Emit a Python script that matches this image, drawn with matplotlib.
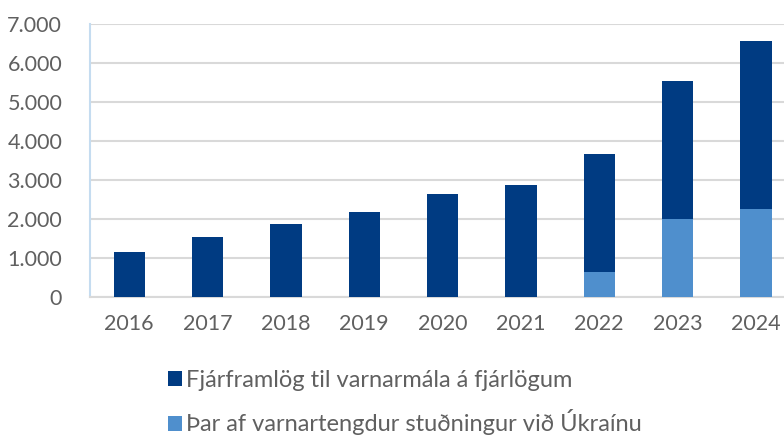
import matplotlib.pyplot as plt
import numpy as np
from matplotlib.ticker import FuncFormatter

years = ['2016', '2017', '2018', '2019', '2020', '2021', '2022', '2023', '2024']
fjarlog = [1150, 1540, 1880, 2180, 2640, 2870, 3660, 5540, 6560]
ukraina = [0, 0, 0, 0, 0, 0, 640, 2000, 2260]

dark = '#003B82'
light = '#4F8FCD'
txt = '#606060'

plt.rcParams['font.family'] = ['Lato', 'DejaVu Sans']

fig = plt.figure(figsize=(7.84, 4.37), dpi=100)
ax = fig.add_axes([90/784, 1-297/437, 705/784, 273/437])

x = np.arange(len(years))
ax.bar(x, fjarlog, width=0.4, color=dark, zorder=3, label='Fjárframlög til varnarmála á fjárlögum')
ax.bar(x, ukraina, width=0.4, color=light, zorder=4, label='Þar af varnartengdur stuðningur við Úkraínu')

ax.set_xlim(-0.5, 8.5)
ax.set_ylim(0, 7000)
ax.set_yticks(range(0, 7001, 1000))
ax.yaxis.set_major_formatter(FuncFormatter(lambda v, p: f'{int(v):,}'.replace(',', '.')))
ax.set_xticks(x)
ax.set_xticklabels(years)
ax.grid(axis='y', color='#D9D9D9', linewidth=1.5, zorder=0)
for s in ['top', 'right']:
    ax.spines[s].set_visible(False)
ax.spines['left'].set_color('#C5DCF0')
ax.spines['left'].set_linewidth(1.5)
ax.spines['bottom'].set_color('#D9D9D9')
ax.spines['bottom'].set_linewidth(1.5)
ax.tick_params(length=0, labelsize=15.5, labelcolor=txt)
ax.tick_params(axis='y', pad=20)
ax.tick_params(axis='x', pad=12)

leg = fig.legend(loc='upper left', bbox_to_anchor=(168/784, 1-370/437), frameon=False,
                 ncol=1, fontsize=17, handlelength=0.6, handleheight=0.6,
                 handletextpad=0.15, labelspacing=0.78, borderpad=0, borderaxespad=0)
for t in leg.get_texts():
    t.set_color(txt)

fig.savefig('out.png', dpi=100)
